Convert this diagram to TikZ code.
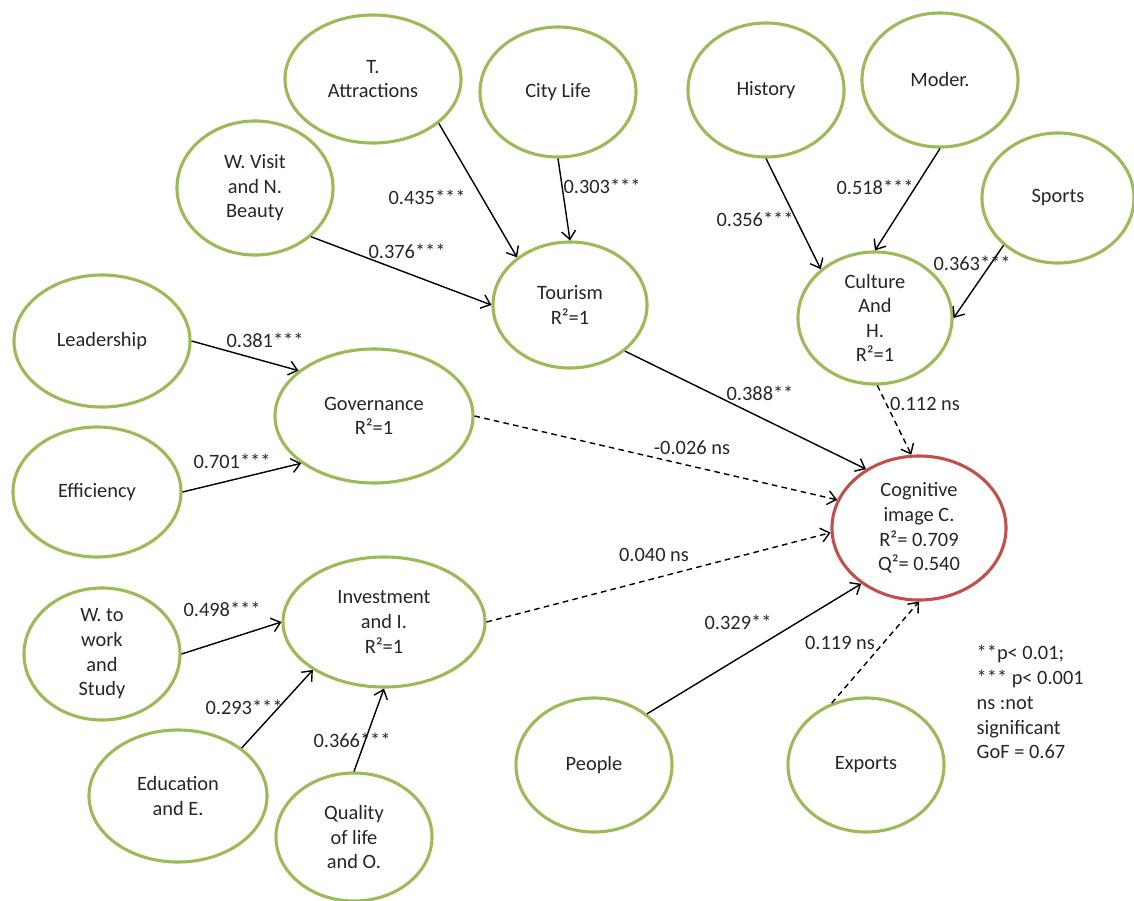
\documentclass[tikz,border=0pt]{standalone}
\usepackage{fontspec}
\setmainfont{Carlito}
\usetikzlibrary{arrows.meta,shapes.geometric}
\definecolor{lvgreen}{RGB}{155,187,89}
\definecolor{cogred}{RGB}{192,80,77}

\begin{document}
\begin{tikzpicture}[x=0.025cm, y=-0.025cm, >={Straight Barb[length=6pt,width=10pt]},
    lv/.style={ellipse, draw=lvgreen, line width=2.2pt, fill=white, align=center,
        inner sep=0pt, minimum width=3.9cm, minimum height=3.35cm,
        font=\fontsize{14.5}{17.5}\selectfont, text=black!85},
    lab/.style={font=\fontsize{14.5}{17.5}\selectfont, text=black!85, inner sep=1pt},
    sig/.style={->, line width=1pt},
    nsig/.style={->, line width=1pt, dash pattern=on 4pt off 3pt}]
    \useasboundingbox (0,0) rectangle (1134,901);

    % variables latentes
    \node[lv, minimum width=4.4cm, minimum height=3.2cm] (tattr) at (373,79) {T.\\Attractions};
    \node[lv, minimum height=3.25cm] (city) at (558,92) {City Life};
    \node[lv] (visit) at (255,188) {W. Visit\\and N.\\Beauty};
    \node[lv, minimum width=3.85cm, minimum height=3.15cm] (tour) at (570,305) {Tourism\\R²=1};
    \node[lv] (hist) at (766,90) {History};
    \node[lv] (moder) at (940,80) {Moder.};
    \node[lv, minimum width=3.8cm, minimum height=3.25cm] (sports) at (1058,198) {Sports};
    \node[lv, minimum width=3.85cm, minimum height=3.3cm] (cult) at (875,318) {Culture\\And\\H.\\R²=1};
    \node[lv, minimum width=4.4cm, minimum height=3.3cm] (lead) at (102,341) {Leadership};
    \node[lv, minimum width=4.95cm] (gov) at (374,416) {Governance\\R²=1};
    \node[lv, minimum width=4.2cm, minimum height=3.25cm] (eff) at (97,492) {Efficiency};
    \node[lv, minimum height=3.3cm] (work) at (102,654) {W. to\\work\\and\\Study};
    \node[lv, minimum width=5.05cm, minimum height=3.25cm] (inv) at (384,622) {Investment\\and I.\\R²=1};
    \node[lv, minimum width=4.45cm, minimum height=3.3cm] (edu) at (178,796) {Education\\and E.};
    \node[lv, minimum height=3.2cm] (qual) at (354,837) {Quality\\of life\\and O.};
    \node[lv] (people) at (594,765) {People};
    \node[lv] (exports) at (866,765) {Exports};

    % variable cible
    \node[lv, draw=cogred, minimum width=4.35cm, minimum height=3.6cm] (cog) at (919,528)
        {Cognitive\\image C.\\R²= 0.709\\Q²= 0.540};

    % relations
    \draw[sig] (tattr.-34) -- (tour.138);
    \draw[sig] (city.south) -- (tour.north);
    \draw[sig] (visit.-41) -- (tour.west);
    \draw[sig] (hist.south) -- (cult.138);
    \draw[sig] (moder.south) -- (cult.north);
    \draw[sig] (sports.221) -- (cult.east);
    \draw[sig] (lead.east) -- (gov.149);
    \draw[sig] (eff.east) -- (gov.213);
    \draw[sig] (work.east) -- (inv.west);
    \draw[sig] (edu.37) -- (inv.214);
    \draw[sig] (qual.north) -- (inv.south);
    \draw[sig] (tour.-40) -- (cog.132);
    \draw[nsig] (cult.-88) -- (cog.96);
    \draw[nsig] (gov.east) -- (cog.161);
    \draw[nsig] (inv.east) -- (cog.183);
    \draw[sig] (people.44) -- (cog.224);
    \draw[nsig] (exports.119) -- (cog.south);

    % coefficients
    \node[lab] (c1) at (427,197) {0.435***};
    \node[lab] (c2) at (602,186) {0.303***};
    \node[lab] (c3) at (407,251) {0.376***};
    \node[lab] (c4) at (755,219) {0.356***};
    \node[lab] (c5) at (875,187) {0.518***};
    \node[lab] (c6) at (972,263) {0.363***};
    \node[lab] (c7) at (265,340) {0.381***};
    \node[lab] (c8) at (232,461) {0.701***};
    \node[lab] (c9) at (760,393) {0.388**};
    \node[lab] (c10) at (925,404) {0.112 ns};
    \node[lab] (c11) at (692,448) {-0.026 ns};
    \node[lab] (c12) at (654,555) {0.040 ns};
    \node[lab] (c13) at (222,609) {0.498***};
    \node[lab] (c14) at (244,707) {0.293***};
    \node[lab] (c15) at (352,740) {0.366***};
    \node[lab] (c16) at (738,622) {0.329**};
    \node[lab] (c17) at (840,643) {0.119 ns};

    % legende
    \node[lab, anchor=west, align=left, font=\fontsize{14.5}{17.7}\selectfont] (legend) at (975,702)
        {**p< 0.01;\\*** p< 0.001\\ns :not\\significant\\GoF = 0.67};
\end{tikzpicture}
\end{document}
